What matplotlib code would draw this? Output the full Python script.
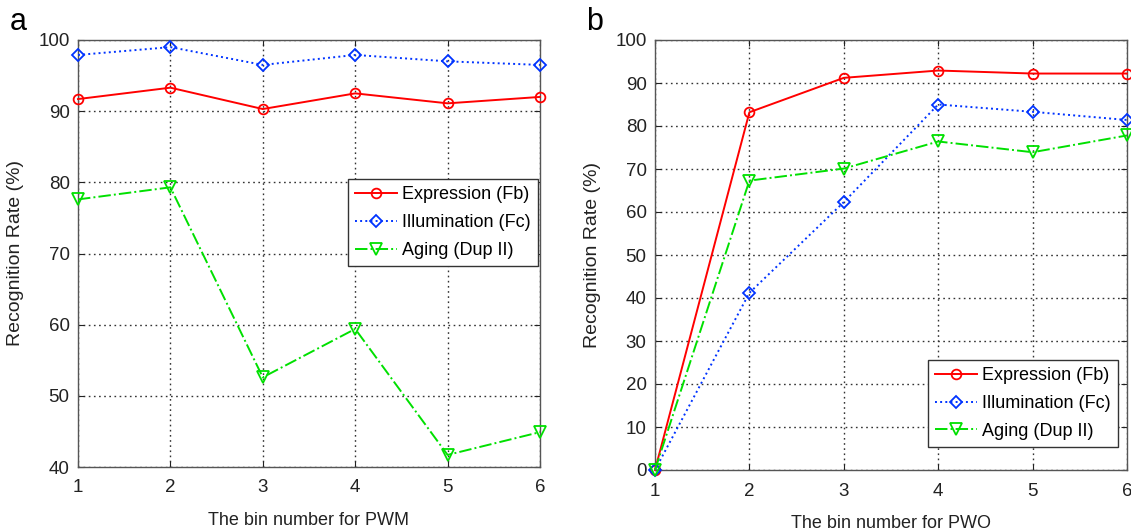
import matplotlib
matplotlib.use("Agg")
import matplotlib.pyplot as plt

plt.rcParams['font.family'] = ['Liberation Sans', 'DejaVu Sans']

bins = [1, 2, 3, 4, 5, 6]

# Panel a: PWM
pwm_expression = [91.7, 93.3, 90.3, 92.5, 91.1, 92.0]
pwm_illumination = [97.9, 99.0, 96.5, 97.9, 97.0, 96.5]
pwm_aging = [77.6, 79.3, 52.6, 59.4, 41.7, 44.9]

# Panel b: PWO
pwo_expression = [0.0, 83.2, 91.2, 92.9, 92.2, 92.2]
pwo_illumination = [0.0, 41.2, 62.3, 85.0, 83.3, 81.4]
pwo_aging = [0.0, 67.3, 70.1, 76.4, 73.9, 77.8]

series_labels = ['Expression (Fb)', 'Illumination (Fc)', 'Aging (Dup II)']

W, H = 1131, 531
fig = plt.figure(figsize=(W / 100, H / 100), dpi=100)


def rect(l, t, r, b):
    return [l / W, 1 - b / H, (r - l) / W, (b - t) / H]


ax_a = fig.add_axes(rect(78, 40, 540, 467))
ax_b = fig.add_axes(rect(655, 40, 1127, 470))

styles = [
    dict(color='#ff0000', linestyle='-', marker='o', ms=7),
    dict(color='#0033ff', linestyle=':', marker='D', ms=6),
    dict(color='#00e000', linestyle='-.', marker='v', ms=8),
]


def draw(ax, data, ylim, yticks, xlabel, legend_anchor):
    for vals, st, lab in zip(data, styles, series_labels):
        ax.plot(bins, vals, color=st['color'], linestyle=st['linestyle'],
                linewidth=1.4, marker=st['marker'], markersize=st['ms'],
                markerfacecolor='none', markeredgecolor=st['color'],
                markeredgewidth=1.3, label=lab, clip_on=False, zorder=3)
    ax.set_xlim(1, 6)
    ax.set_ylim(*ylim)
    ax.set_xticks(bins)
    ax.set_yticks(yticks)
    ax.grid(True, color='#333333', linestyle=(0, (1.2, 2.5)), linewidth=1.0)
    ax.tick_params(direction='in', length=4, labelsize=13.5, colors='#222222',
                   top=True, right=True)
    ax.tick_params(axis='x', pad=9)
    ax.tick_params(axis='y', pad=6)
    for s in ax.spines.values():
        s.set_color('#555555')
        s.set_linewidth(1.0)
    ax.set_xlabel(xlabel, fontsize=13, color='#222222', labelpad=11)
    ax.set_ylabel('Recognition Rate (%)', fontsize=14, color='#222222', labelpad=10)
    leg = ax.legend(loc='upper left', bbox_to_anchor=legend_anchor, fontsize=13,
                    frameon=True, fancybox=False, edgecolor='#333333',
                    framealpha=1.0, handlelength=2.3, borderpad=0.4,
                    labelspacing=0.6, handletextpad=0.3, borderaxespad=0.0)
    leg.get_frame().set_linewidth(1.0)
    return leg


draw(ax_a, [pwm_expression, pwm_illumination, pwm_aging], (40, 100),
     range(40, 101, 10), 'The bin number for PWM', (0.584, 0.674))
draw(ax_b, [pwo_expression, pwo_illumination, pwo_aging], (0, 100),
     range(0, 101, 10), 'The bin number for PWO', (0.578, 0.256))

fig.text(10 / W, 1 - 22 / H, 'a', fontsize=22, va='center', ha='left')
fig.text(586 / W, 1 - 22 / H, 'b', fontsize=22, va='center', ha='left')

fig.savefig('out.png', dpi=100, facecolor='white')
